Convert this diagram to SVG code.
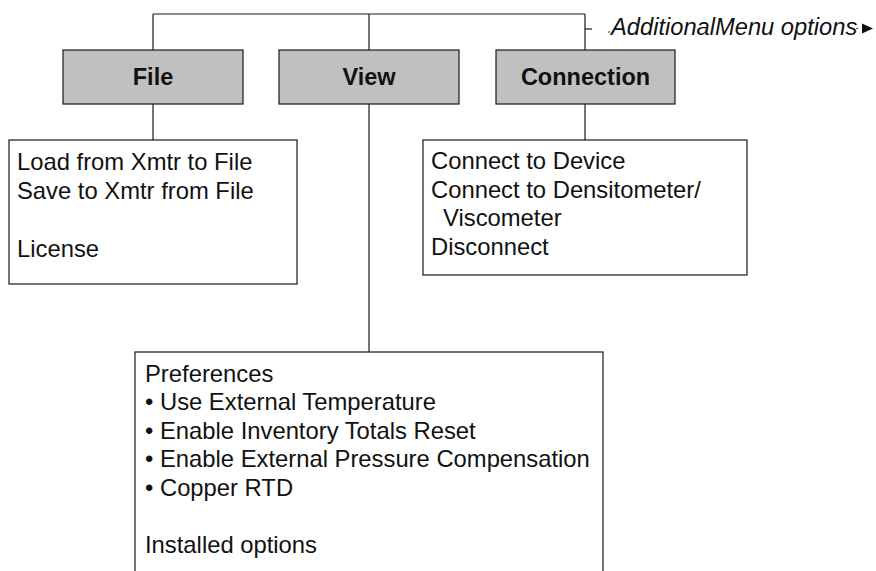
<svg xmlns="http://www.w3.org/2000/svg" width="876" height="571" viewBox="0 0 876 571">
<style>
.menu{fill:#c0c0c0;stroke:#1a1a1a;stroke-width:1.2}
.list{fill:#fff;stroke:#1a1a1a;stroke-width:1.2}
.title{font-family:"Liberation Sans",Arial,sans-serif;font-weight:bold;font-size:23.5px;fill:#111;text-anchor:middle}
.txt{font-family:"Liberation Sans",Arial,sans-serif;font-size:23.8px;fill:#111}
.it{font-family:"Liberation Sans",Arial,sans-serif;font-style:italic;font-size:23.7px;fill:#111}
.conn line{stroke:#1a1a1a;stroke-width:1.2;fill:none}
</style>
<rect width="876" height="571" fill="#fff"/>
<g id="connectors" class="conn">
<line x1="153" y1="14" x2="585" y2="14"/>
<line x1="153" y1="14" x2="153" y2="50"/>
<line x1="369" y1="14" x2="369" y2="50"/>
<line x1="585" y1="14" x2="585" y2="50"/>
<line x1="585" y1="29" x2="592" y2="29"/>
<line x1="153" y1="104" x2="153" y2="140"/>
<line x1="585" y1="104" x2="585" y2="140"/>
<line x1="369" y1="104" x2="369" y2="352"/>
</g>
<g id="additional-label">
<circle cx="609" cy="32" r="0.8" fill="#111"/>
<text class="it" x="611" y="34.5">AdditionalMenu options</text>
<circle cx="857" cy="28.5" r="0.8" fill="#111"/>
<polygon points="862,23.5 873,28.5 862,33.5" fill="#111"/>
</g>
<g id="file">
<rect class="menu" x="63" y="50" width="180" height="54"/>
<text class="title" x="153" y="85">File</text>
</g>
<g id="view">
<rect class="menu" x="279" y="50" width="180" height="54"/>
<text class="title" x="369" y="85">View</text>
</g>
<g id="connection">
<rect class="menu" x="496" y="50" width="179" height="54"/>
<text class="title" x="585.5" y="85">Connection</text>
</g>
<g id="file-list">
<rect class="list" x="9" y="140" width="288" height="144"/>
<text class="txt" x="17" y="170">Load from Xmtr to File</text>
<text class="txt" x="17" y="199">Save to Xmtr from File</text>
<text class="txt" x="17" y="257">License</text>
</g>
<g id="connection-list">
<rect class="list" x="423" y="140" width="324" height="135"/>
<text class="txt" x="431" y="169">Connect to Device</text>
<text class="txt" x="431" y="197.5">Connect to Densitometer/</text>
<text class="txt" x="443" y="226">Viscometer</text>
<text class="txt" x="431" y="254.5">Disconnect</text>
</g>
<g id="view-list">
<rect class="list" x="135" y="352" width="468" height="240"/>
<text class="txt" x="145" y="381.5">Preferences</text>
<text class="txt" x="145" y="410">• Use External Temperature</text>
<text class="txt" x="145" y="438.5">• Enable Inventory Totals Reset</text>
<text class="txt" x="145" y="467">• Enable External Pressure Compensation</text>
<text class="txt" x="145" y="495.5">• Copper RTD</text>
<text class="txt" x="145" y="552.5">Installed options</text>
</g>
</svg>
